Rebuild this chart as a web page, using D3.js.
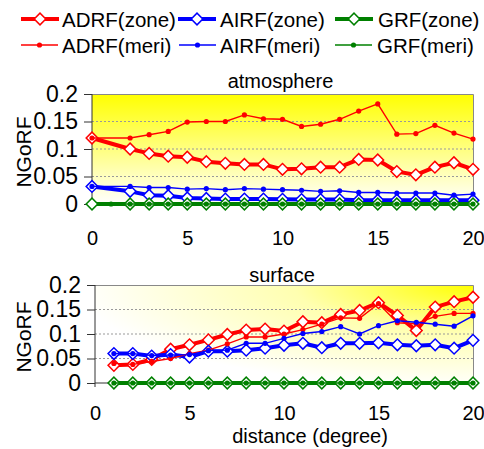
<!DOCTYPE html>
<html><head><meta charset="utf-8">
<script src="https://cdn.jsdelivr.net/npm/d3@7"></script>
<style>body{margin:0;background:#fff}svg{display:block;font-family:"Liberation Sans",Arial,sans-serif}</style>
</head><body><svg id="c" width="484" height="449"></svg>
<script>
// ---- data ----
const xValues = d3.range(0, 21);
const xTicks = [0, 5, 10, 15, 20];
const yTicks = [0, 0.05, 0.1, 0.15, 0.2];
const yTickLabels = ["0", "0.05", "0.1", "0.15", "0.2"];
const gridValues = [0.05, 0.1, 0.15];
const seriesNames = ["ADRF(zone)", "AIRF(zone)", "GRF(zone)", "ADRF(meri)", "AIRF(meri)", "GRF(meri)"];
const panelTitles = ["atmosphere", "surface"];

// atmosphere panel
const atmADRFzone = [0.12, null, 0.1, 0.092, 0.087, 0.085, 0.077, 0.074, 0.072, 0.072, 0.063, 0.064, 0.067, 0.067, 0.081, 0.08, 0.059, 0.053, 0.067, 0.075, 0.063];
const atmAIRFzone = [0.032, null, 0.023, 0.016, 0.015, 0.011, 0.01, 0.009, 0.009, 0.009, 0.0085, 0.008, 0.008, 0.008, 0.007, 0.007, 0.007, 0.007, 0.007, 0.007, 0.007];
const atmGRFzone  = [0, null, 0, 0, 0, 0, 0, 0, 0, 0, 0, 0, 0, 0, 0, 0, 0, 0, 0, 0, 0];
const atmADRFmeri = [0.12, null, 0.12, 0.126, 0.132, 0.149, 0.15, 0.15, 0.162, 0.155, 0.154, 0.141, 0.145, 0.154, 0.169, 0.182, 0.127, 0.128, 0.143, 0.129, 0.118];
const atmAIRFmeri = [0.032, null, 0.032, 0.03, 0.03, 0.027, 0.028, 0.026, 0.028, 0.027, 0.026, 0.025, 0.023, 0.024, 0.021, 0.021, 0.02, 0.02, 0.02, 0.016, 0.018];
const atmGRFmeri  = [null, 0, 0, 0, 0, 0, 0, 0, 0, 0, 0, 0, 0, 0, 0, 0, 0, 0, 0, 0, 0];

// surface panel
const sfcADRFzone = [null, 0.036, 0.038, 0.048, 0.069, 0.078, 0.088, 0.099, 0.108, 0.11, 0.106, 0.125, 0.123, 0.14, 0.148, 0.164, 0.138, 0.107, 0.155, 0.166, 0.175];
const sfcAIRFzone = [null, 0.06, 0.06, 0.055, 0.058, 0.053, 0.065, 0.065, 0.067, 0.071, 0.077, 0.081, 0.072, 0.081, 0.081, 0.082, 0.078, 0.076, 0.078, 0.071, 0.087];
const sfcGRFzone  = [null, 0, 0, 0, 0, 0, 0, 0, 0, 0, 0, 0, 0, 0, 0, 0, 0, 0, 0, 0, 0];
const sfcADRFmeri = [null, 0.04, 0.038, 0.044, 0.05, 0.06, 0.067, 0.08, 0.094, 0.094, 0.1, 0.109, 0.12, 0.133, 0.132, 0.162, 0.123, 0.121, 0.136, 0.142, 0.142];
const sfcAIRFmeri = [null, 0.06, 0.06, 0.056, 0.057, 0.058, 0.066, 0.067, 0.081, 0.081, 0.091, 0.101, 0.105, 0.115, 0.1, 0.117, 0.127, 0.124, 0.12, 0.116, 0.137];
const sfcGRFmeri  = [null, 0, 0, 0, 0, 0, 0, 0, 0, 0, 0, 0, 0, 0, 0, 0, 0, 0, 0, 0, 0];

// ---- styling ----
const colors = ["#ff0000", "#0000ff", "#008000", "#ff0000", "#0000ff", "#008000"];
const kinds = ["zone", "zone", "zone", "meri", "meri", "meri"];

const svg = d3.select("#c");
const defs = svg.append("defs");
const g1 = defs.append("linearGradient").attr("id", "gAtm").attr("x1", 0).attr("y1", 0).attr("x2", 0).attr("y2", 1);
g1.append("stop").attr("offset", "0%").attr("stop-color", "#ffff00");
g1.append("stop").attr("offset", "100%").attr("stop-color", "#ffffff");
const g2 = defs.append("radialGradient").attr("id", "gSfc").attr("cx", 1).attr("cy", 0).attr("r", 1.05)
  .attr("gradientUnits", "objectBoundingBox");
g2.append("stop").attr("offset", "0%").attr("stop-color", "#ffff00");
g2.append("stop").attr("offset", "45%").attr("stop-color", "#ffffb0");
g2.append("stop").attr("offset", "100%").attr("stop-color", "#ffffff");

const markerSize = 68;

function drawPanel(cfg) {
  const x = d3.scaleLinear().domain([0, 20]).range([cfg.left, cfg.right]);
  const y = d3.scaleLinear().domain([0, 0.2]).range([cfg.bottom, cfg.top]);
  const g = svg.append("g");
  g.append("rect").attr("x", cfg.left).attr("y", cfg.top).attr("width", cfg.right - cfg.left)
    .attr("height", cfg.bottom - cfg.top).attr("fill", `url(#${cfg.grad})`);
  // grid
  g.selectAll(".grid").data(gridValues).join("line")
    .attr("x1", cfg.left).attr("x2", cfg.right).attr("y1", d => y(d)).attr("y2", d => y(d))
    .attr("stroke", "#999").attr("stroke-width", 1).attr("stroke-dasharray", "2,2");
  // frame top/right
  g.append("path").attr("d", `M${cfg.left},${cfg.top + 0.5}H${cfg.right + 0.5}V${cfg.bottom}`)
    .attr("fill", "none").attr("stroke", "#888").attr("stroke-width", 1);
  // y axis
  const yAxis = d3.axisLeft(y).tickValues(yTicks).tickFormat((d, i) => yTickLabels[i]).tickSize(8).tickPadding(6);
  const ya = g.append("g").attr("transform", `translate(${cfg.left},0)`).call(yAxis);
  ya.select(".domain").attr("stroke", "#333").attr("d", `M0,${cfg.top}V${cfg.bottom + 4}`);
  ya.selectAll(".tick line").attr("stroke", "#333");
  ya.selectAll("text").attr("font-size", 23).attr("fill", "#000").attr("font-family", "Liberation Sans, Arial, sans-serif");
  // x axis line at 0
  g.append("line").attr("x1", cfg.left).attr("x2", cfg.right).attr("y1", y(0)).attr("y2", y(0)).attr("stroke", "#333");
  // x tick labels
  const xa = d3.axisBottom(x).tickValues(xTicks).tickSize(0).tickPadding(0);
  const xg = g.append("g").attr("transform", `translate(0,${cfg.xLabelY})`).call(xa);
  xg.select(".domain").remove();
  xg.selectAll("text").attr("font-size", 20).attr("fill", "#000").attr("dy", "0.35em").attr("y", 0)
    .attr("font-family", "Liberation Sans, Arial, sans-serif");
  // title
  g.append("text").attr("x", (cfg.left + cfg.right) / 2 - 2).attr("y", cfg.titleY).attr("text-anchor", "middle")
    .attr("dy", "0.35em").attr("font-size", 20).text(cfg.title);
  // y label
  g.append("text").attr("transform", `translate(24,${(cfg.top + cfg.bottom) / 2 + 3}) rotate(-90)`)
    .attr("text-anchor", "middle").attr("dy", "0.35em").attr("font-size", 21).text("NGoRF");

  const line = d3.line().x(d => x(d.x)).y(d => y(d.v));
  cfg.series.forEach((vals, i) => {
    const pts = xValues.map((xv, j) => ({ x: xv, v: vals[j] })).filter(p => p.v !== null);
    const col = colors[i];
    const sg = g.append("g");
    if (kinds[i] === "zone") {
      sg.append("path").datum(pts).attr("d", line).attr("fill", "none").attr("stroke", col)
        .attr("stroke-width", 4).attr("stroke-linejoin", "round");
      sg.selectAll("path.m").data(pts).join("path").attr("class", "m")
        .attr("d", d3.symbol().type(d3.symbolSquare).size(markerSize))
        .attr("transform", d => `translate(${x(d.x)},${y(d.v)}) rotate(45)`)
        .attr("fill", "#fff").attr("stroke", col).attr("stroke-width", 1.5);
    } else {
      sg.append("path").datum(pts).attr("d", line).attr("fill", "none").attr("stroke", col)
        .attr("stroke-width", 1.4);
      sg.selectAll("circle").data(pts).join("circle").attr("cx", d => x(d.x)).attr("cy", d => y(d.v))
        .attr("r", 2.6).attr("fill", col);
    }
  });
}

drawPanel({ left: 92, right: 473, top: 94, bottom: 204, grad: "gAtm", xLabelY: 238, titleY: 81, title: panelTitles[0],
  series: [atmADRFzone, atmAIRFzone, atmGRFzone, atmADRFmeri, atmAIRFmeri, atmGRFmeri] });
drawPanel({ left: 95, right: 473, top: 285, bottom: 383, grad: "gSfc", xLabelY: 413, titleY: 275, title: panelTitles[1],
  series: [sfcADRFzone, sfcAIRFzone, sfcGRFzone, sfcADRFmeri, sfcAIRFmeri, sfcGRFmeri] });

svg.append("text").attr("x", 310).attr("y", 436).attr("text-anchor", "middle").attr("dy", "0.35em")
  .attr("font-size", 20).text("distance (degree)");

// ---- legend ----
const legendPos = [
  { lx: 21, tx: 62, y: 19 }, { lx: 178, tx: 220, y: 19 }, { lx: 335, tx: 378, y: 19 },
  { lx: 21, tx: 62, y: 45 }, { lx: 179, tx: 220, y: 45 }, { lx: 335, tx: 377, y: 45 }
];
seriesNames.forEach((name, i) => {
  const p = legendPos[i];
  const lg = svg.append("g");
  const col = colors[i];
  if (kinds[i] === "zone") {
    lg.append("line").attr("x1", p.lx).attr("x2", p.lx + 38).attr("y1", p.y).attr("y2", p.y).attr("stroke", col).attr("stroke-width", 4);
    lg.append("path").attr("d", d3.symbol().type(d3.symbolSquare).size(markerSize)).attr("transform", `translate(${p.lx + 19},${p.y}) rotate(45)`)
      .attr("fill", "#fff").attr("stroke", col).attr("stroke-width", 1.5);
  } else {
    lg.append("line").attr("x1", p.lx).attr("x2", p.lx + 37).attr("y1", p.y).attr("y2", p.y).attr("stroke", col).attr("stroke-width", 1.4);
    lg.append("circle").attr("cx", p.lx + 18.5).attr("cy", p.y).attr("r", 2.6).attr("fill", col);
  }
  lg.append("text").attr("x", p.tx).attr("y", p.y + 1).attr("dy", "0.35em").attr("font-size", 20.5).text(name);
});
</script></body></html>
